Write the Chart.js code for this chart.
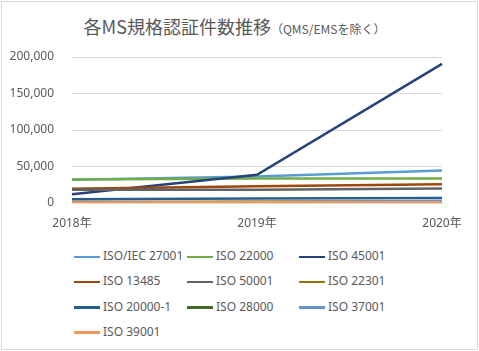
<!DOCTYPE html>
<html>
<head>
<meta charset="utf-8">
<script src="https://cdn.jsdelivr.net/npm/chart.js@4"></script>
<style>
    body { margin: 0; background: #fff; }
    #wrap { position: relative; width: 479px; height: 351px; overflow: hidden; }
    #frame { position: absolute; left: 1px; top: 1px; width: 475px; height: 347px; border: 1px solid #d9d9d9; }
    #title {
        position: absolute; left: 0; top: 14px; width: 469px; text-align: center;
        font-family: 'Noto Sans CJK JP', 'Noto Sans', sans-serif; font-size: 18px; line-height: 24px; color: #595959;
    }
    #title small { font-size: 12px; }
    #chartCanvas { position: absolute; left: 0; top: 0; }
    #legend {
        position: absolute; left: 74px; top: 246px;
        font-family: 'Noto Sans', 'Noto Sans CJK JP', sans-serif; font-size: 12px; color: #595959;
    }
    .item { position: absolute; height: 20px; line-height: 20px; white-space: nowrap; }
    .item span.swatch { display: inline-block; width: 26px; height: 2.5px; vertical-align: middle; margin-right: 3px; }
</style>
</head>
<body>
<div id="wrap">
    <div id="frame"></div>
    <div id="title">各MS規格認証件数推移<small>（QMS/EMSを除く）</small></div>
    <canvas id="chartCanvas" width="479" height="240"></canvas>
    <div id="legend"></div>
</div>
<script>
const years = ['2018年', '2019年', '2020年'];
const seriesNames = ['ISO/IEC 27001', 'ISO 22000', 'ISO 45001', 'ISO 13485', 'ISO 50001',
    'ISO 22301', 'ISO 20000-1', 'ISO 28000', 'ISO 37001', 'ISO 39001'];
const iso27001 = [31900, 36400, 44500];
const iso22000 = [32100, 33500, 33700];
const iso45001 = [11900, 38700, 190500];
const iso13485 = [19500, 23000, 25700];
const iso50001 = [18100, 18200, 19700];
const iso22301 = [1500, 1700, 2200];
const iso20000 = [5300, 6000, 7000];
const iso28000 = [600, 1300, 1000];
const iso37001 = [400, 900, 2900];
const iso39001 = [600, 900, 1100];
const yTicks = [0, 50000, 100000, 150000, 200000];

const seriesValues = [iso27001, iso22000, iso45001, iso13485, iso50001,
    iso22301, iso20000, iso28000, iso37001, iso39001];
const colors = ['#5B9BD5', '#70AD47', '#264478', '#9E480E', '#636363',
    '#997300', '#255E91', '#43682B', '#698ED0', '#F1975A'];

// legend in three columns, like the Excel one
const legend = document.getElementById('legend');
const colX = [0, 113, 225];
seriesNames.forEach((name, i) => {
    const item = document.createElement('div');
    item.className = 'item';
    item.style.left = colX[i % 3] + 'px';
    item.style.top = (Math.floor(i / 3) * 25.3) + 'px';
    item.innerHTML = `<span class="swatch" style="background:${colors[i]}"></span>${name}`;
    legend.appendChild(item);
});

const ctx = document.getElementById('chartCanvas').getContext('2d');
new Chart(ctx, {
    type: 'line',
    data: {
        labels: years,
        datasets: seriesNames.map((name, i) => ({
            label: name,
            data: seriesValues[i],
            borderColor: colors[i],
            backgroundColor: colors[i],
            borderWidth: 2.5,
            pointRadius: 0,
            tension: 0,
            order: seriesNames.length - i
        }))
    },
    options: {
        responsive: false,
        animation: false,
        layout: { padding: { top: 57, right: 37, left: 0, bottom: 7 } },
        plugins: {
            legend: { display: false },
            title: { display: false },
            tooltip: { enabled: false }
        },
        scales: {
            x: {
                offset: false,
                grid: { display: false, drawTicks: false },
                border: { display: true, color: '#d9d9d9', width: 1 },
                ticks: {
                    color: '#595959', padding: 13, maxRotation: 0,
                    font: { family: "'Noto Sans', 'Noto Sans CJK JP'", size: 12 }
                },
                afterFit: (scale) => { scale.height = 30; }
            },
            y: {
                min: 0,
                max: 200000,
                afterBuildTicks: (scale) => { scale.ticks = yTicks.map(v => ({ value: v })); },
                grid: { color: '#d9d9d9', drawTicks: false },
                border: { display: false },
                ticks: {
                    color: '#595959', padding: 18,
                    font: { family: "'Noto Sans', 'Noto Sans CJK JP'", size: 12 },
                    callback: (v) => v.toLocaleString('en-US')
                },
                afterFit: (scale) => { scale.width = 72; }
            }
        }
    }
});
</script>
</body>
</html>
